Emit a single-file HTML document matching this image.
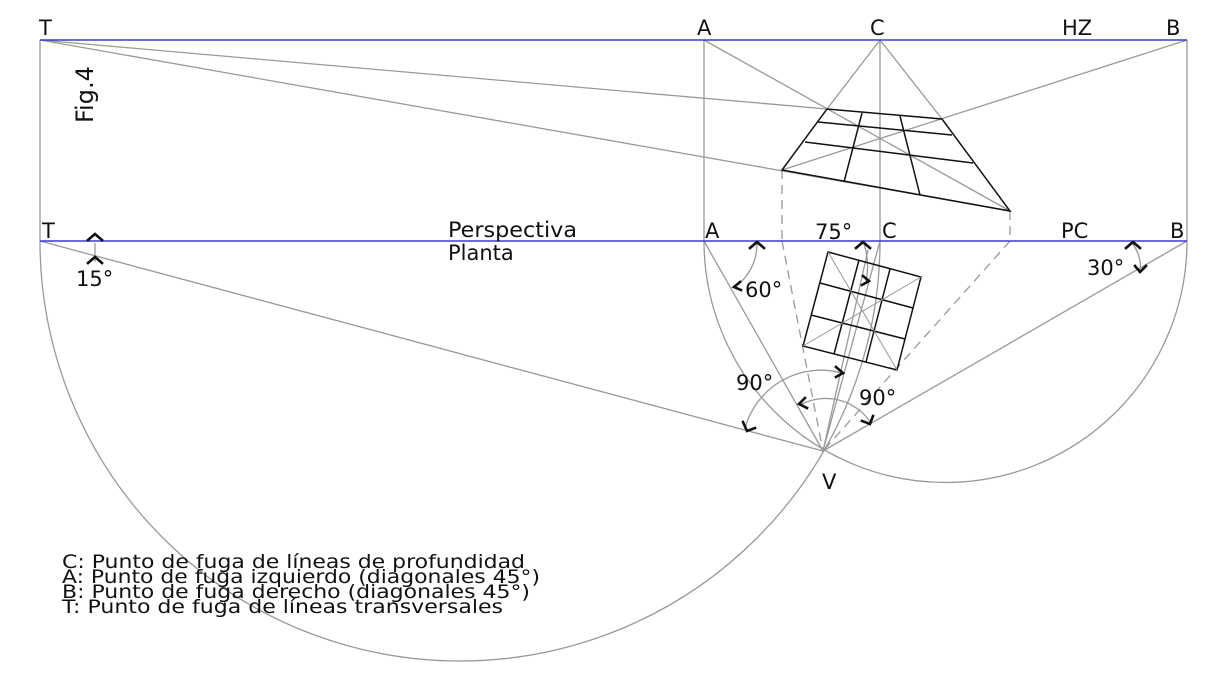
<!DOCTYPE html>
<html><head><meta charset="utf-8"><style>
html,body{margin:0;padding:0;background:#fff;}
svg{display:block;}
text{font-family:"DejaVu Sans","Liberation Sans",sans-serif;fill:#111;}
</style></head><body>
<svg width="1219" height="673" viewBox="0 0 1219 673" xmlns="http://www.w3.org/2000/svg">
<g fill="none" stroke="#999" stroke-width="1.3">
  <line x1="40" y1="40" x2="40" y2="241"/>
  <line x1="704" y1="40" x2="704" y2="241"/>
  <line x1="1187" y1="40" x2="1187" y2="241"/>
  <line x1="880" y1="40" x2="880" y2="241"/>
  <line x1="40" y1="40" x2="827" y2="109"/>
  <line x1="40" y1="40" x2="1010" y2="211"/>
  <line x1="704" y1="40" x2="1010" y2="211"/>
  <line x1="1187" y1="40" x2="782" y2="170"/>
  <line x1="880" y1="40" x2="827" y2="109"/>
  <line x1="880" y1="40" x2="942" y2="119"/>
  <line x1="40" y1="241" x2="823" y2="451"/>
  <line x1="704" y1="241" x2="823" y2="451"/>
  <line x1="1187" y1="241" x2="823" y2="451"/>
  <line x1="880" y1="241" x2="823" y2="451"/>
  <line x1="868" y1="250" x2="823" y2="451"/>
  <path d="M40 241 A420 420 0 0 0 880 241"/>
  <path d="M704 241 A241.5 241.5 0 0 0 1187 241"/>
  <path d="M95 243 L95 262"/>
  <path d="M757 244 A53 53 0 0 1 735 287"/>
  <path d="M864 244 Q870 262 866 282"/>
  <path d="M1133 244 Q1142 258 1140 270"/>
  <path d="M745 428 A79 79 0 0 1 842 373"/>
  <path d="M800 405 A54 54 0 0 1 871 423"/>
</g>
<g fill="none" stroke="#999" stroke-width="1.3" stroke-dasharray="9,6">
  <line x1="782" y1="170" x2="782" y2="241"/>
  <line x1="1010" y1="211" x2="1010" y2="241"/>
  <line x1="782" y1="241" x2="823" y2="451"/>
  <line x1="1010" y1="241" x2="823" y2="451"/>
</g>
<g stroke="#3a3ad0" stroke-width="1.5">
  <line x1="40" y1="40" x2="1187" y2="40"/>
  <line x1="40" y1="241" x2="1187" y2="241"/>
</g>
<g fill="none" stroke="#111" stroke-width="1.5">
  <polygon points="827,109 942,119 1010,211 782,170"/>
  <line x1="862" y1="113" x2="844" y2="182"/>
  <line x1="900" y1="116" x2="920" y2="195"/>
  <line x1="818" y1="122" x2="952" y2="135"/>
  <line x1="805" y1="142" x2="973" y2="163"/>
</g>
<g fill="none" stroke="#111" stroke-width="1.5">
  <polygon points="828,252 921,277 897,370 803,346"/>
  <line x1="859" y1="260" x2="834" y2="354"/>
  <line x1="890" y1="269" x2="866" y2="362"/>
  <line x1="820" y1="283" x2="913" y2="308"/>
  <line x1="811" y1="315" x2="905" y2="339"/>
</g>
<g stroke="#999" stroke-width="1">
  <line x1="828" y1="252" x2="897" y2="370"/>
  <line x1="921" y1="277" x2="803" y2="346"/>
</g>
<g fill="none" stroke="#111" stroke-width="2.6" stroke-linecap="square">
  <path d="M88 240 L95 234 L102 240"/>
  <path d="M88 263 L95 257 L102 263"/>
  <path d="M750 248 L757 242 L764 248"/>
  <path d="M740 282 L734 287 L741 290"/>
  <path d="M856 248 L863 242 L870 248"/>
  <path d="M863 276 L869 281 L862 285"/>
  <path d="M1126 248 L1133 242 L1140 248"/>
  <path d="M1135 266 L1140 272 L1146 266"/>
  <path d="M743 422 L747 431 L755 428"/>
  <path d="M836 367 L843 373 L836 377"/>
  <path d="M805 398 L799 404 L807 408"/>
  <path d="M862 421 L870 424 L873 416"/>
</g>
<g font-size="21">
  <text x="39" y="35">T</text>
  <text x="697" y="35">A</text>
  <text x="870" y="35">C</text>
  <text x="1062" y="35">HZ</text>
  <text x="1166" y="35">B</text>
  <text x="42" y="238">T</text>
  <text x="705" y="238">A</text>
  <text x="882" y="238">C</text>
  <text x="1061" y="238">PC</text>
  <text x="1170" y="238">B</text>
  <text x="815" y="239">75°</text>
  <text x="448" y="237" textLength="129" lengthAdjust="spacingAndGlyphs">Perspectiva</text>
  <text x="448" y="260">Planta</text>
  <text x="76" y="286">15°</text>
  <text x="745" y="297">60°</text>
  <text x="1087" y="275">30°</text>
  <text x="736" y="390">90°</text>
  <text x="859" y="405">90°</text>
  <text x="822" y="489">V</text>
  <text x="93" y="123" font-size="24" transform="rotate(-90 93 123)">Fig.4</text>
</g>
<g font-size="19">
  <text x="62" y="568" textLength="463" lengthAdjust="spacingAndGlyphs">C: Punto de fuga de líneas de profundidad</text>
  <text x="62" y="583" textLength="478" lengthAdjust="spacingAndGlyphs">A: Punto de fuga izquierdo (diagonales 45°)</text>
  <text x="62" y="598" textLength="468" lengthAdjust="spacingAndGlyphs">B: Punto de fuga derecho (diagonales 45°)</text>
  <text x="62" y="613" textLength="441" lengthAdjust="spacingAndGlyphs">T: Punto de fuga de líneas transversales</text>
</g>
</svg>
</body></html>
